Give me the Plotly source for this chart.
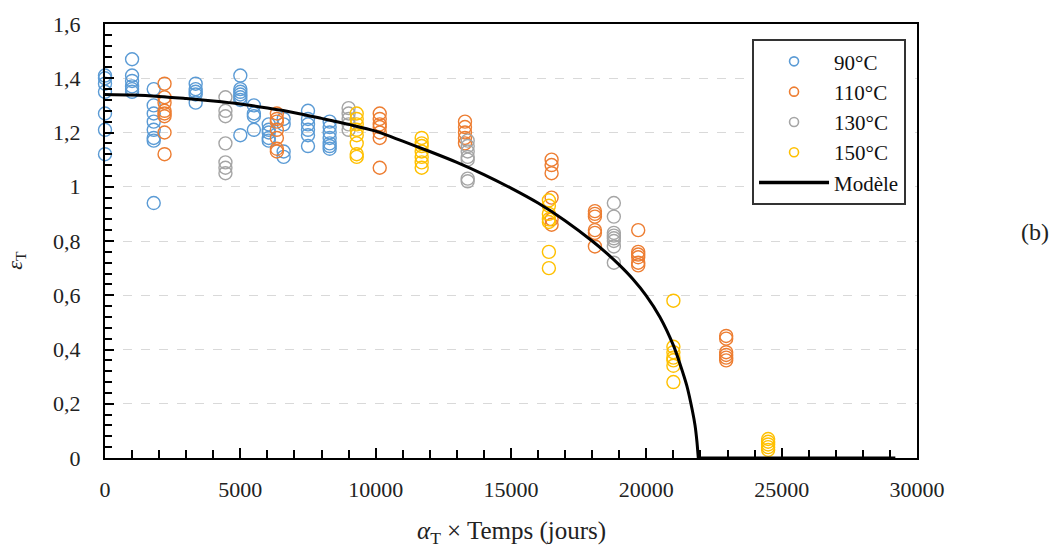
import plotly.graph_objects as go

# ---------------- data ----------------
t_90 = [0]*7 + [1000]*6 + [1800]*8 + [3350]*5 + [5000]*7 + [5500]*4 + [6050]*5 + [6600]*4 + [7500]*6 + [8300]*7
eps_90 = [1.41, 1.40, 1.38, 1.35, 1.27, 1.21, 1.12,
          1.47, 1.41, 1.39, 1.37, 1.36, 1.35,
          1.36, 1.30, 1.27, 1.24, 1.21, 1.18, 1.17, 0.94,
          1.38, 1.36, 1.35, 1.34, 1.31,
          1.41, 1.36, 1.35, 1.34, 1.33, 1.32, 1.19,
          1.30, 1.27, 1.26, 1.21,
          1.23, 1.21, 1.20, 1.18, 1.17,
          1.25, 1.23, 1.13, 1.11,
          1.28, 1.25, 1.23, 1.21, 1.19, 1.15,
          1.24, 1.22, 1.20, 1.18, 1.16, 1.15, 1.14]

t_110 = [2200]*8 + [6350]*7 + [10150]*7 + [13300]*5 + [16500]*6 + [18100]*6 + [19700]*6 + [22950]*6
eps_110 = [1.38, 1.33, 1.31, 1.28, 1.27, 1.26, 1.20, 1.12,
           1.27, 1.25, 1.24, 1.21, 1.18, 1.14, 1.13,
           1.27, 1.25, 1.23, 1.22, 1.20, 1.18, 1.07,
           1.24, 1.22, 1.20, 1.18, 1.16,
           1.10, 1.08, 1.05, 0.96, 0.88, 0.86,
           0.91, 0.90, 0.89, 0.84, 0.83, 0.78,
           0.84, 0.76, 0.75, 0.74, 0.72, 0.71,
           0.45, 0.44, 0.39, 0.38, 0.37, 0.36]

t_130 = [4450]*7 + [9000]*5 + [13400]*7 + [18800]*8
eps_130 = [1.33, 1.28, 1.26, 1.16, 1.09, 1.07, 1.05,
           1.29, 1.27, 1.25, 1.23, 1.21,
           1.17, 1.15, 1.13, 1.11, 1.10, 1.03, 1.02,
           0.94, 0.89, 0.83, 0.82, 0.81, 0.80, 0.78, 0.72]

t_150 = [9300]*8 + [11700]*7 + [16400]*7 + [21000]*7 + [24500]*5
eps_150 = [1.27, 1.25, 1.23, 1.21, 1.19, 1.16, 1.12, 1.11,
           1.18, 1.16, 1.15, 1.13, 1.11, 1.09, 1.07,
           0.95, 0.93, 0.90, 0.88, 0.87, 0.76, 0.70,
           0.58, 0.41, 0.39, 0.37, 0.36, 0.34, 0.28,
           0.07, 0.06, 0.05, 0.04, 0.03]

# model curve
t_model = [0, 1000, 2000, 3000, 4000, 5000, 6000, 7000, 8000, 9000, 10000,
           11000, 12000, 13000, 14000, 15000, 16000, 17000, 18000, 18500, 19000,
           19500, 20000, 20500, 21000, 21250, 21500, 21700, 21800, 21870, 21920, 29200]
eps_model = [1.340, 1.338, 1.333, 1.325, 1.316, 1.305, 1.290, 1.273, 1.252, 1.230, 1.205,
             1.168, 1.130, 1.090, 1.045, 0.995, 0.940, 0.875, 0.800, 0.758, 0.712,
             0.660, 0.598, 0.520, 0.415, 0.345, 0.265, 0.175, 0.120, 0.060, 0.0, 0.0]

series_names = ["90°C", "110°C", "130°C", "150°C"]
series_colors = ["#5B9BD5", "#ED7D31", "#A5A5A5", "#FFC000"]

x_tickvals = [0, 5000, 10000, 15000, 20000, 25000, 30000]
x_ticktext = ["0", "5000", "10000", "15000", "20000", "25000", "30000"]
y_tickvals = [0, 0.2, 0.4, 0.6, 0.8, 1.0, 1.2, 1.4, 1.6]
y_ticktext = ["0", "0,2", "0,4", "0,6", "0,8", "1", "1,2", "1,4", "1,6"]

FONT = "Liberation Serif"

fig = go.Figure()

all_t = [t_90, t_110, t_130, t_150]
all_e = [eps_90, eps_110, eps_130, eps_150]
for name, col, tx, ey in zip(series_names, series_colors, all_t, all_e):
    fig.add_trace(go.Scatter(
        x=tx, y=ey, mode="markers", name=name, showlegend=False,
        marker=dict(symbol="circle-open", size=13, color=col, line=dict(width=1.4, color=col)),
        cliponaxis=False,
    ))

# curved part (smoothed) and flat tail of the model
fig.add_trace(go.Scatter(
    x=t_model[:-1], y=eps_model[:-1], mode="lines", name="Modèle", showlegend=False,
    line=dict(color="black", width=3, shape="spline", smoothing=0.8),
    cliponaxis=False,
))
fig.add_trace(go.Scatter(
    x=t_model[-2:], y=eps_model[-2:], mode="lines", showlegend=False,
    line=dict(color="black", width=3), cliponaxis=False,
))

# legend-only entries (smaller symbols as in the reference legend)
for name, col in zip(series_names, series_colors):
    fig.add_trace(go.Scatter(
        x=[None], y=[None], mode="markers", name=name,
        marker=dict(symbol="circle-open", size=9, color=col, line=dict(width=1.6, color=col)),
    ))
fig.add_trace(go.Scatter(x=[None], y=[None], mode="lines", name="Modèle",
                         line=dict(color="black", width=3.5)))

fig.update_layout(
    width=1064, height=551,
    margin=dict(l=105, r=147, t=20, b=93),
    paper_bgcolor="white", plot_bgcolor="white",
    font=dict(family=FONT, size=22, color="#222222"),
    showlegend=True,
    legend=dict(
        x=0.9865, xanchor="right", y=0.965, yanchor="top",
        bgcolor="white", bordercolor="#333333", borderwidth=2,
        font=dict(family=FONT, size=21, color="#111111"),
        itemwidth=70, tracegroupgap=0,
    ),
    xaxis=dict(
        range=[0, 30000], tickmode="array", tickvals=x_tickvals, ticktext=x_ticktext,
        showgrid=False, zeroline=False,
        showline=True, linecolor="black", linewidth=2, mirror=True,
        ticks="inside", ticklen=10, tickwidth=1.5, tickcolor="black",
        ticklabelstandoff=11,
        minor=dict(dtick=1000, tick0=0, ticks="inside", ticklen=8, tickwidth=1.5,
                   tickcolor="black", showgrid=False),
    ),
    yaxis=dict(
        range=[0, 1.6], tickmode="array", tickvals=y_tickvals, ticktext=y_ticktext,
        showgrid=True, gridcolor="#d9d9d9", griddash="dash", gridwidth=1,
        zeroline=False,
        showline=True, linecolor="black", linewidth=2, mirror=True,
        ticks="inside", ticklen=9, tickwidth=1.5, tickcolor="black",
        ticklabelstandoff=18,
        minor=dict(dtick=0.04, tick0=0, ticks="inside", ticklen=7, tickwidth=1.5,
                   tickcolor="black", showgrid=False),
    ),
    annotations=[
        dict(text="<i>α</i><sub>T</sub> × Temps (jours)", xref="paper", yref="paper",
             x=0.5, y=-0.172, xanchor="center", yanchor="middle", showarrow=False,
             font=dict(family=FONT, size=25, color="#222222")),
        dict(text="<i>ε</i><sub>T</sub>", xref="paper", yref="paper",
             x=-0.11, y=0.456, xanchor="center", yanchor="middle", showarrow=False,
             textangle=-90, font=dict(family=FONT, size=22, color="#222222")),
        dict(text="(b)", xref="paper", yref="paper",
             x=1.145, y=0.52, xanchor="center", yanchor="middle", showarrow=False,
             font=dict(family=FONT, size=24, color="#222222")),
    ],
)

fig.write_html("out.html",
               config={"displayModeBar": False},
               post_script="document.body.style.margin='0';document.body.style.overflow='hidden';")
